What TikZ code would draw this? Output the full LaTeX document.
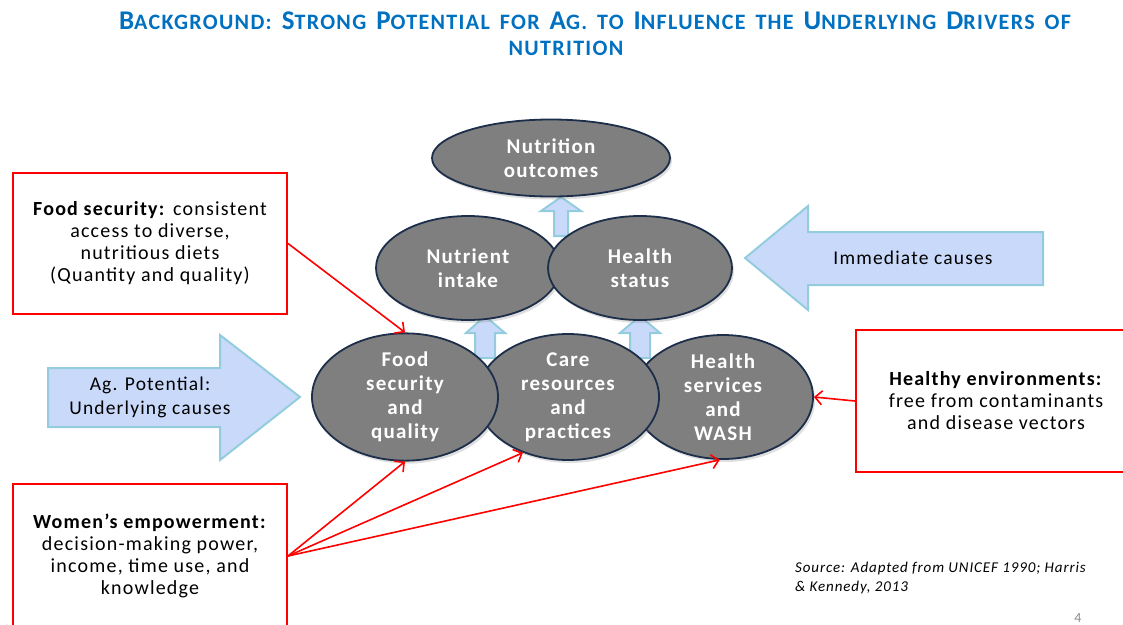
\documentclass[tikz,border=0pt]{standalone}
\usepackage{fontspec}
\setmainfont{Carlito}[LetterSpace=6]
\usetikzlibrary{shapes.geometric,arrows.meta,shadows}
\definecolor{titleblue}{HTML}{0070C0}
\definecolor{ovalfill}{HTML}{7F7F7F}
\definecolor{ovalline}{HTML}{1C2E4A}
\definecolor{arrowfill}{HTML}{C9D9F9}
\definecolor{arrowline}{HTML}{93CDDD}
\definecolor{pagegray}{HTML}{8C8C8C}
\newcommand\capbig[1]{{\fontsize{27}{30}\selectfont #1}}
\newcommand\capsmall[1]{{\fontsize{22}{26}\selectfont #1}}
\newcommand\gap{\hspace{10pt}}
\tikzset{
  oval/.style={ellipse, draw=ovalline, line width=1.8pt, fill=ovalfill,
    inner sep=0pt, text=white, align=center,
    font=\fontsize{21}{24}\selectfont\bfseries,
    drop shadow={opacity=0.25, shadow xshift=2pt, shadow yshift=-3pt}},
  blockarrow/.style={draw=arrowline, line width=2pt, fill=arrowfill, line join=miter},
  redbox/.style={draw=red, line width=2pt, fill=white, align=center,
    font=\fontsize{20}{22}\selectfont},
  redlink/.style={draw=red, line width=1.6pt, -{Straight Barb[length=7pt,width=14pt]}},
  plain/.style={inner sep=0pt, align=center}
}
\begin{document}
\begin{tikzpicture}[x=1pt,y=-1pt]
\useasboundingbox (0,0) rectangle (1123,624);

% heading
\node[plain, text=titleblue, font=\bfseries] (title1) at (595,21)
  {\capbig{B}\capsmall{ACKGROUND:}\gap\capbig{S}\capsmall{TRONG}\gap\capbig{P}\capsmall{OTENTIAL}\gap\capsmall{FOR}\gap\capbig{A}\capsmall{G.}\gap\capsmall{TO}\gap\capbig{I}\capsmall{NFLUENCE}\gap\capsmall{THE}\gap\capbig{U}\capsmall{NDERLYING}\gap\capbig{D}\capsmall{RIVERS}\gap\capsmall{OF}};
\node[plain, text=titleblue, font=\bfseries] (title2) at (566,48) {\capsmall{NUTRITION}};

% large side arrows
\draw[blockarrow] (48,368) -- (220,368) -- (220,335) -- (300,397) -- (220,460) -- (220,427) -- (48,427) -- cycle;
\node[plain, font=\fontsize{19.5}{24}\selectfont] (agtext) at (150,397) {Ag. Potential:\\Underlying causes};
\draw[blockarrow] (1043,232) -- (808,232) -- (808,206) -- (745,258) -- (808,310) -- (808,285) -- (1043,285) -- cycle;
\node[plain, font=\fontsize{19.5}{22}\selectfont] (imtext) at (913,258) {Immediate causes};

% small upward arrows between levels
\draw[blockarrow] (554,236) -- (554,211) -- (541,211) -- (561,197) -- (581,211) -- (568,211) -- (568,236) -- cycle;
\draw[blockarrow] (475,358) -- (475,333) -- (466,333) -- (485,316) -- (505,333) -- (495,333) -- (495,358) -- cycle;
\draw[blockarrow] (630,358) -- (630,333) -- (620,333) -- (640,316) -- (660,333) -- (650,333) -- (650,358) -- cycle;

% ovals
\node[oval, minimum width=238pt, minimum height=77pt] (outcome) at (551,158) {Nutrition\\outcomes};
\node[oval, minimum width=184pt, minimum height=104pt] (intake) at (468,268) {Nutrient\\intake};
\node[oval, minimum width=184pt, minimum height=104pt] (status) at (640,268) {Health\\status};
\node[oval, minimum width=180pt, minimum height=124pt] (wash) at (723,397) {Health\\services\\and\\WASH};
\node[oval, minimum width=182pt, minimum height=126pt] (care) at (568,397) {Care\\resources\\and\\practices};
\node[oval, minimum width=186pt, minimum height=126pt] (food) at (405,397) {Food\\security\\and\\quality};

% explanation boxes
\node[redbox, minimum width=274pt, minimum height=141pt] (fsbox) at (150,243.5)
  {\textbf{Food security:} consistent\\access to diverse,\\nutritious diets\\(Quantity and quality)};
\node[redbox, minimum width=274pt, minimum height=144pt] (wobox) at (150,556)
  {\textbf{Women’s empowerment:}\\decision-making power,\\income, time use, and\\knowledge};
\node[redbox, minimum width=280pt, minimum height=142pt] (envbox) at (996,401)
  {\textbf{Healthy environments:}\\free from contaminants\\and disease vectors};

% links
\draw[redlink] (fsbox.east) -- (food.north);
\draw[redlink] (wobox.east) -- (food.south);
\draw[redlink] (wobox.east) -- (care.231);
\draw[redlink] (wobox.east) -- (wash.267);
\draw[redlink] (envbox.west) -- (wash.east);

% source and page number
\node[plain, align=left, anchor=north west, font=\fontsize{15}{19}\selectfont\itshape] (source) at (795,562)
  {Source: Adapted from UNICEF 1990; Harris\\\& Kennedy, 2013};
\node[plain, text=pagegray, font=\fontsize{14}{16}\selectfont] (pagenum) at (1078,618) {4};
\end{tikzpicture}
\end{document}
